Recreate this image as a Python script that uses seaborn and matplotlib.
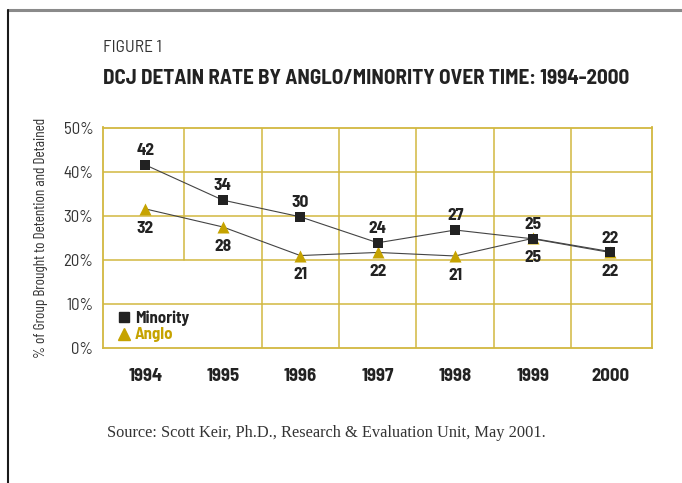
import matplotlib
matplotlib.use("Agg")
import matplotlib.pyplot as plt
from matplotlib.lines import Line2D
import seaborn as sns
import pandas as pd

# ---- data ----
years = ["1994", "1995", "1996", "1997", "1998", "1999", "2000"]
minority = [41.5, 33.5, 29.7, 23.8, 26.7, 24.7, 21.6]
anglo = [31.5, 27.4, 20.9, 21.6, 20.8, 24.8, 21.8]
minority_labels = ["42", "34", "30", "24", "27", "25", "22"]
anglo_labels = ["32", "28", "21", "22", "21", "25", "22"]
y_ticks = [0, 10, 20, 30, 40, 50]
y_tick_labels = ["0%", "10%", "20%", "30%", "40%", "50%"]

sns.set_style("white")
FAM = ["Barlow Semi Condensed", "Barlow Condensed", "DejaVu Sans"]
FAM_NARROW = ["Barlow Condensed", "Barlow Semi Condensed", "DejaVu Sans"]
plt.rcParams["font.family"] = FAM

GOLD_GRID = "#d2b840"
GOLD = "#c6a300"
DARK = "#222222"
LINE = "#444444"

pos = list(range(len(years)))
df = pd.DataFrame({
    "pos": pos * 2,
    "value": anglo + minority,
    "group": ["Anglo"] * len(years) + ["Minority"] * len(years),
})

fig = plt.figure(figsize=(6.82, 4.83), dpi=100)
ax = fig.add_axes([103 / 682, 1 - 347.5 / 483, 549 / 682, 220 / 483])

# grid
for v in [10, 20, 30, 40]:
    ax.axhline(v, color=GOLD_GRID, lw=1.1, zorder=0)
ax.axvline(0.5, ymin=0.4, ymax=1.0, color=GOLD_GRID, lw=1.1, zorder=0)
for x in [1.5, 2.5, 3.5, 4.5, 5.5]:
    ax.axvline(x, color=GOLD_GRID, lw=1.1, zorder=0)

# connecting lines
sns.lineplot(data=df, x="pos", y="value", units="group", estimator=None,
             color=LINE, lw=0.8, ax=ax, zorder=2, legend=False)
# markers
sns.scatterplot(data=df[df.group == "Anglo"], x="pos", y="value", marker="^",
                color=GOLD, s=75, linewidth=0, ax=ax, zorder=3, legend=False)
sns.scatterplot(data=df[df.group == "Minority"], x="pos", y="value", marker="s",
                color=DARK, s=60, linewidth=0, ax=ax, zorder=4, legend=False)

# value labels
for i in pos:
    ax.annotate(minority_labels[i], (i, minority[i]), xytext=(0, 10.3),
                textcoords="offset points", ha="center", va="center",
                fontsize=12.5, fontweight="bold", color=DARK)
    ax.annotate(anglo_labels[i], (i, anglo[i]), xytext=(0, -14),
                textcoords="offset points", ha="center", va="center",
                fontsize=12.5, fontweight="bold", color=DARK)

ax.set_xlim(-0.546, 6.54)
ax.set_ylim(0, 50)
ax.set_xticks(pos)
ax.set_xticklabels(years, fontsize=13.5, fontweight="bold", color=DARK)
ax.set_yticks(y_ticks)
ax.set_yticklabels(y_tick_labels, fontsize=12, color="#333333")
ax.tick_params(axis="x", length=0, pad=15)
ax.tick_params(axis="y", length=0, pad=7)
ax.set_xlabel("")
ax.set_ylabel("% of Group Brought to Detention and Detained", fontsize=11,
              family=FAM_NARROW, color="#333333", labelpad=11)
for s in ax.spines.values():
    s.set_visible(True)
    s.set_color(GOLD_GRID)
    s.set_linewidth(1.3)

handles = [
    Line2D([], [], marker="s", color=DARK, lw=0, markersize=7),
    Line2D([], [], marker="^", color=GOLD, lw=0, markersize=8),
]
leg = ax.legend(handles, ["Minority", "Anglo"], loc="lower left",
                bbox_to_anchor=(0.005, -0.03), frameon=False, handlelength=0.8,
                handletextpad=0.25, labelspacing=0.1, borderaxespad=0.3,
                prop={"family": FAM, "size": 12, "weight": "bold"})
leg.get_texts()[0].set_color(DARK)
leg.get_texts()[1].set_color(GOLD)

fig.text(103 / 682, 1 - 48 / 483, "FIGURE 1", fontsize=12.5, fontweight="normal",
         color="#333333", ha="left", va="center")
fig.text(103 / 682, 1 - 78 / 483, "DCJ DETAIN RATE BY ANGLO/MINORITY OVER TIME: 1994-2000",
         fontsize=15.2, fontweight="bold", color=DARK, ha="left", va="center")
fig.text(107 / 682, 1 - 433 / 483,
         "Source: Scott Keir, Ph.D., Research & Evaluation Unit, May 2001.",
         fontsize=11.8, family=["Liberation Serif", "DejaVu Serif"], color="#333333",
         ha="left", va="center")

# page frame
fig.add_artist(Line2D([8 / 682, 1], [1 - 10 / 483, 1 - 10 / 483], color="#8a8a8a",
                      lw=2.2, transform=fig.transFigure))
fig.add_artist(Line2D([8 / 682, 8 / 682], [1 - 10 / 483, 0], color="#1a1a1a",
                      lw=1.5, transform=fig.transFigure))

fig.savefig("out.png", dpi=100)
